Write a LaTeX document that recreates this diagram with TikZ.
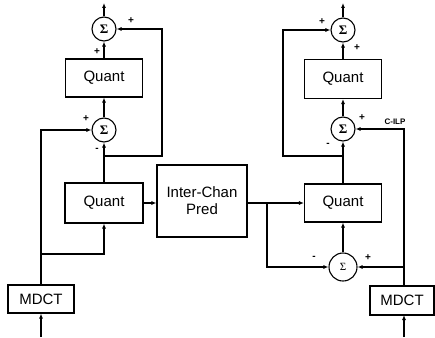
\documentclass[tikz,border=0pt]{standalone}
\usepackage{fontspec}
\setmainfont{Liberation Sans}
\newfontfamily\sigfont{Liberation Serif}
\usetikzlibrary{arrows.meta}
\begin{document}
\begin{tikzpicture}[x=1pt,y=-1pt,
  blk/.style={draw,line width=1.1pt,inner sep=0pt,font=\fontsize{15}{17}\selectfont,align=center},
  sumc/.style={draw,circle,line width=1.1pt,minimum size=24pt,inner sep=0pt,font=\sigfont\bfseries\fontsize{13}{13}\selectfont},
  ln/.style={line width=1.1pt},
  ar/.style={line width=1.1pt,-{Latex[length=5pt,width=4pt]}},
  sg/.style={font=\fontsize{10}{10}\selectfont\bfseries,inner sep=0pt}]
\useasboundingbox (0,0) rectangle (435,337);
% left column
\node[sumc] (L1) at (104,29) {Σ};
\node[blk,minimum width=77pt,minimum height=38pt] (LQ1) at (104,78) {Quant};
\node[sumc] (L2) at (104,130) {Σ};
\node[blk,minimum width=78pt,minimum height=40pt] (LQ2) at (104,203) {Quant};
\node[blk,minimum width=66pt,minimum height=28pt] (LM) at (41,299) {MDCT};
% centre
\node[blk,minimum width=90pt,minimum height=72pt] (ICP) at (202,201) {Inter-Chan\\Pred};
% right column
\node[sumc] (R1) at (343,30) {Σ};
\node[blk,minimum width=77pt,minimum height=39pt] (RQ1) at (343,79) {Quant};
\node[sumc] (R2) at (343,129) {Σ};
\node[blk,minimum width=77pt,minimum height=38pt] (RQ2) at (343,203) {Quant};
\node[sumc,minimum size=28pt,font=\sigfont\fontsize{11}{11}\selectfont] (R3) at (343,267) {Σ};
\node[blk,minimum width=64pt,minimum height=29pt] (RM) at (402,300.5) {MDCT};
% coordinates
\coordinate (Lout) at (104,3);
\coordinate (Lfb) at (104,156);
\coordinate (Lfb1) at (162,156);
\coordinate (Lfb2) at (162,29);
\coordinate (Lin) at (41,337);
\coordinate (Lup) at (41,130);
\coordinate (Lbr) at (41,254);
\coordinate (Lbr1) at (104,254);
\coordinate (Iout) at (247,203);
\coordinate (Rbr) at (267,203);
\coordinate (Rbr1) at (267,267);
\coordinate (Rout) at (343,3);
\coordinate (Rfb) at (343,156);
\coordinate (Rfb1) at (283,156);
\coordinate (Rfb2) at (283,30);
\coordinate (Rin) at (404,337);
\coordinate (Rup) at (404,129);
\coordinate (Rbr2) at (404,267);
\coordinate (RMt) at (404,286);
\coordinate (RMb) at (404,315);
% left connectors
\draw[ar] (L1.north) -- (Lout);
\draw[ar] (LQ1.north) -- (L1.south);
\draw[ar] (L2.north) -- (LQ1.south);
\draw[ar] (LQ2.north) -- (L2.south);
\draw[ar] (Lfb) -- (Lfb1) -- (Lfb2) -- (L1.east);
\draw[ar] (LM.north) -- (Lup) -- (L2.west);
\draw[ar] (Lbr) -- (Lbr1) -- (LQ2.south);
\draw[ar] (Lin) -- (LM.south);
\draw[ar] (LQ2.east) -- (LQ2.east -| ICP.west);
% right connectors
\draw[ar] (Iout) -- (RQ2.west);
\draw[ar] (Rbr) -- (Rbr1) -- (R3.west);
\draw[ar] (R3.north) -- (RQ2.south);
\draw[ar] (RMt) -- (Rup) -- (R2.east);
\draw[ar] (Rbr2) -- (R3.east);
\draw[ar] (RQ2.north) -- (R2.south);
\draw[ar] (R2.north) -- (RQ1.south);
\draw[ar] (RQ1.north) -- (R1.south);
\draw[ar] (R1.north) -- (Rout);
\draw[ar] (Rfb) -- (Rfb1) -- (Rfb2) -- (R1.west);
\draw[ar] (Rin) -- (RMb);
% signs
\node[sg] (s1) at (131,21) {+};
\node[sg] (s2) at (97,52) {+};
\node[sg] (s3) at (86,119) {+};
\node[sg] (s4) at (97,150) {-};
\node[sg] (s5) at (322,22) {+};
\node[sg] (s6) at (357,48) {+};
\node[sg] (s7) at (362,118) {+};
\node[sg] (s8) at (328,145) {-};
\node[sg] (s9) at (314,258) {-};
\node[sg] (s10) at (368,258) {+};
\node[font=\fontsize{8}{8}\selectfont\bfseries,inner sep=0pt] (cilp) at (395,122) {C-ILP};
\end{tikzpicture}
\end{document}
